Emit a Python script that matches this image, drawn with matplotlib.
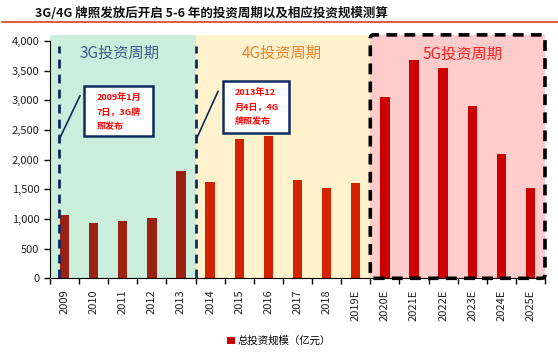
import matplotlib
matplotlib.use('Agg')
import matplotlib.pyplot as plt
from matplotlib.patches import Rectangle, FancyBboxPatch, Patch
from matplotlib.lines import Line2D
import numpy as np

plt.rcParams['font.family'] = ['Noto Sans CJK SC', 'DejaVu Sans']

# data
years = ['2009', '2010', '2011', '2012', '2013', '2014', '2015', '2016', '2017',
         '2018', '2019E', '2020E', '2021E', '2022E', '2023E', '2024E', '2025E']
invest = [1070, 930, 960, 1020, 1800, 1630, 2350, 2400, 1650,
          1520, 1600, 3060, 3670, 3545, 2900, 2090, 1520]
phase = ['3G'] * 5 + ['4G'] * 6 + ['5G'] * 6

bar_colors = {'3G': '#9B2112', '4G': '#D42300', '5G': '#CC0000'}
bg_colors = {'3G': '#CBEEDC', '4G': '#FFF2CC', '5G': '#FFCCCC'}
label_colors = {'3G': '#3E5B8C', '4G': '#E8832C', '5G': '#FF1F1F'}
navy = '#0E2B5E'

fig = plt.figure(figsize=(5.58, 3.53), dpi=100)
ax = fig.add_axes([0.0896, 0.2116, 0.8871, 0.6896])

x = np.arange(len(years))
top = 4100
ax.set_xlim(-0.5, len(years) - 0.5)
ax.set_ylim(0, top)

# background bands per phase
for p in ['3G', '4G', '5G']:
    idx = [i for i, q in enumerate(phase) if q == p]
    ax.add_patch(Rectangle((idx[0] - 0.5, 0), len(idx), top,
                           facecolor=bg_colors[p], edgecolor='none', zorder=0))

ax.bar(x, invest, width=0.32, color=[bar_colors[p] for p in phase], zorder=3)

# dashed navy lines for 3G and 4G licence dates
for xv in [-0.19, 4.5]:
    ax.plot([xv, xv], [0, 3905], color=navy, lw=2.0, ls=(0, (3.2, 2.2)), zorder=4)

# black dashed box around the 5G period
i5 = [i for i, q in enumerate(phase) if q == '5G']
box = FancyBboxPatch((i5[0] - 0.5, 0), len(i5), top,
                     boxstyle='round,pad=0,rounding_size=0.12', mutation_aspect=490,
                     facecolor='none', edgecolor='black', lw=2.6,
                     ls=(0, (3, 2)), zorder=5, clip_on=False)
ax.add_patch(box)

# period labels
ax.text(1.9, 3783, '3G投资周期', color=label_colors['3G'], fontsize=11,
        ha='center', va='center', fontweight='medium', zorder=6)
ax.text(7.47, 3783, '4G投资周期', color=label_colors['4G'], fontsize=11,
        ha='center', va='center', fontweight='medium', zorder=6)
ax.text(13.68, 3770, '5G投资周期', color=label_colors['5G'], fontsize=11,
        ha='center', va='center', fontweight='medium', zorder=6)

# annotation boxes
notes = [((0.68, 2400), 2.35, 843, '2009年1月\n7日，3G牌\n照发布', (-0.19, 2332), (0.53, 3074)),
         ((5.44, 2455), 2.27, 860, '2013年12\n月4日，4G\n牌照发布', (4.55, 2371), (5.27, 3147))]
for (bx, by), bw, bh, txt, p0, p1 in notes:
    ax.add_patch(Rectangle((bx, by), bw, bh, facecolor='white', edgecolor=navy,
                           lw=1.8, zorder=6))
    ax.text(bx + 0.42, by + bh - 110, txt, color='#FF0000', fontsize=6.5,
            fontweight='bold', ha='left', va='top', linespacing=1.75, zorder=7)
    ax.plot([p0[0], p1[0]], [p0[1], p1[1]], color=navy, lw=1.2, zorder=6)

# axes styling
for s in ['top', 'right']:
    ax.spines[s].set_visible(False)
ax.spines['left'].set_bounds(0, 4000)
ax.spines['left'].set_zorder(7)
ax.spines['bottom'].set_zorder(7)
ax.set_yticks(np.arange(0, 4001, 500))
ax.set_yticklabels([f'{v:,}' for v in range(0, 4001, 500)])
ax.tick_params(axis='y', labelsize=8, labelcolor='#222222', length=4, width=1)
ax.set_xticks(np.arange(-0.5, len(years), 1.0))
ax.set_xticklabels([])
ax.tick_params(axis='x', which='major', length=4, width=1, direction='out')
ax.set_xticks(x, minor=True)
ax.set_xticklabels(years, minor=True, rotation=90)
ax.tick_params(axis='x', which='minor', length=0, labelsize=8,
               labelcolor='#222222', pad=8)

# title with red rule underneath
fig.text(0.063, 0.962, '3G/4G 牌照发放后开启 5-6 年的投资周期以及相应投资规模测算',
         fontsize=9, fontweight='bold', ha='left', va='center', color='#111111')
fig.add_artist(Line2D([0.004, 1.0], [0.938, 0.938], color='#E23A2A', lw=1.2))

fig.legend(handles=[Patch(facecolor='#CC0000', edgecolor='none', label='总投资规模（亿元）')],
           loc='center', bbox_to_anchor=(0.5, 0.034), frameon=False, fontsize=7.5,
           handlelength=0.8, handleheight=0.8, handletextpad=0.3)

fig.savefig('out.png', dpi=100)
